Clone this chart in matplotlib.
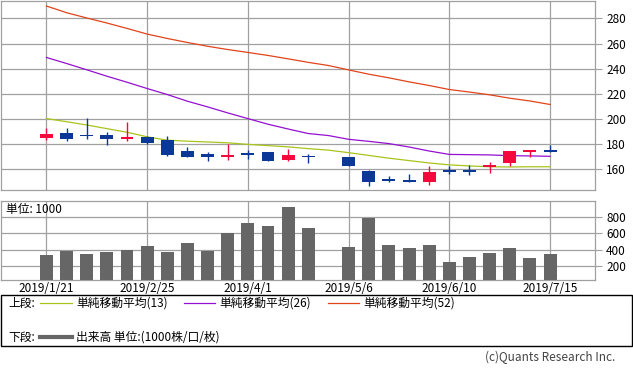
import matplotlib
matplotlib.use("Agg")
import matplotlib.pyplot as plt
from matplotlib.lines import Line2D
import numpy as np

plt.rcParams['font.family'] = ['Noto Sans CJK JP', 'DejaVu Sans']

# 週足データ (2019/1/21 - 2019/7/15, 4/29 の週は休場)
dates = ["2019/1/21", "2019/1/28", "2019/2/4", "2019/2/11", "2019/2/18", "2019/2/25",
         "2019/3/4", "2019/3/11", "2019/3/18", "2019/3/25", "2019/4/1", "2019/4/8",
         "2019/4/15", "2019/4/22", "2019/4/29", "2019/5/6", "2019/5/13", "2019/5/20",
         "2019/5/27", "2019/6/3", "2019/6/10", "2019/6/17", "2019/6/24", "2019/7/1",
         "2019/7/8", "2019/7/15"]
nan = np.nan
opens = [185.2, 188.6, 187.3, 187.3, 184.4, 185.7, 183.1, 174.6, 172.2, 170.0, 172.2, 173.8,
         167.4, 170.8, nan, 170.0, 158.6, 151.5, 151.2, 150.1, 159.4, 159.2, 161.8, 165.3,
         174.0, 175.1]
highs = [192.7, 192.7, 200.6, 189.7, 197.7, 186.5, 186.5, 177.8, 173.5, 180.2, 175.4, 173.8,
         176.2, 172.2, nan, 170.0, 159.4, 154.7, 156.0, 162.6, 162.9, 163.4, 165.8, 174.6,
         175.1, 179.1]
lows = [183.3, 182.8, 184.0, 179.4, 182.8, 180.2, 170.6, 170.0, 166.9, 167.4, 168.0, 166.9,
        166.6, 165.3, nan, 162.7, 146.7, 150.1, 149.9, 147.5, 156.2, 155.4, 157.3, 162.9,
        170.0, 174.0]
closes = [187.9, 184.4, 186.4, 184.1, 186.0, 181.2, 171.6, 170.0, 170.0, 171.6, 171.4, 166.9,
          171.6, 169.4, nan, 162.7, 150.1, 150.8, 149.9, 157.8, 157.8, 158.5, 162.9, 174.6,
          175.1, 174.0]
volume = [334, 382, 346, 370, 395, 443, 370, 480, 382, 601, 723, 686, 918, 662, nan,
          431, 784, 455, 419, 455, 249, 310, 358, 419, 297, 346]
ma13 = [200.3, 197.8, 195.2, 192.3, 189.4, 185.8, 183.1, 182.3, 181.7, 181.0, 179.8, 178.8,
        177.8, 176.4, 175.2, 173.2, 171.0, 168.8, 166.9, 165.0, 163.5, 162.6, 162.0, 161.8,
        162.0, 162.0]
ma26 = [248.9, 244.1, 239.1, 234.0, 229.2, 224.2, 219.4, 214.1, 209.6, 204.8, 200.3, 195.8,
        192.0, 188.4, 186.8, 183.8, 182.2, 180.4, 177.7, 174.5, 171.8, 171.6, 171.4, 170.8,
        170.6, 170.3]
ma52 = [289.8, 284.5, 280.3, 276.3, 272.0, 267.5, 264.0, 260.8, 257.8, 255.2, 252.9, 250.5,
        247.8, 245.0, 242.5, 239.0, 235.6, 232.7, 229.5, 226.6, 223.4, 221.4, 219.2, 216.5,
        214.3, 211.5]

label_idx = [0, 5, 10, 15, 20, 25]
price_ticks = [160, 180, 200, 220, 240, 260, 280]
vol_ticks = [200, 400, 600, 800]

c13, c26, c52 = "#a8c41c", "#9410d0", "#e0441a"
c_up, c_down = "#f5083c", "#0b3796"
grid_c = "#a0a0a0"
W, H = 633, 371

fig = plt.figure(figsize=(W / 100, H / 100), dpi=100)


def px(x0, y0, x1, y1):
    return [x0 / W, 1 - y1 / H, (x1 - x0) / W, (y1 - y0) / H]


x = np.arange(len(dates))
xlim = (-2.28, 27.23)

# ---- 上段: ローソク足 + 移動平均 ----
ax = fig.add_axes(px(0.5, 1, 595, 190))
ax.set_xlim(*xlim)
ax.set_ylim(143.5, 293.8)
for i in x:
    if np.isnan(opens[i]):
        continue
    col = c_up if closes[i] > opens[i] else c_down
    ax.vlines(i, lows[i], highs[i], color=col, lw=1.0, zorder=3)
    lo = min(opens[i], closes[i])
    h = max(abs(closes[i] - opens[i]), 1.5)
    if abs(closes[i] - opens[i]) < 1.5:
        lo = (opens[i] + closes[i]) / 2 - 0.75
    ax.bar(i, h, bottom=lo, width=0.64, color=col, zorder=4)

ax.plot(x, ma52, color=c52, lw=0.9, zorder=2)
ax.plot(x, ma26, color=c26, lw=0.9, zorder=2)
ax.plot(x, ma13, color=c13, lw=0.9, zorder=2)

ax.set_xticks(label_idx)
ax.set_xticklabels([])
ax.set_yticks(price_ticks)
ax.yaxis.tick_right()
ax.tick_params(axis='y', length=5, width=0.8, color=grid_c, pad=3, labelsize=8.5)
ax.tick_params(axis='x', length=0)
ax.grid(True, color=grid_c, lw=0.9)
ax.set_axisbelow(True)
for s in ax.spines.values():
    s.set_color(grid_c)
    s.set_linewidth(0.9)

# ---- 下段: 出来高 ----
axv = fig.add_axes(px(0.5, 201, 595, 280))
axv.set_xlim(*xlim)
axv.set_ylim(30, 990)
axv.bar(x, volume, width=0.64, bottom=0, color="#666666", zorder=3)
axv.set_xticks(label_idx)
axv.set_xticklabels([dates[i] for i in label_idx])
axv.set_yticks(vol_ticks)
axv.yaxis.tick_right()
axv.tick_params(axis='y', length=5, width=0.8, color=grid_c, pad=3, labelsize=8.5)
axv.tick_params(axis='x', length=0, pad=1.5, labelsize=8.5)
axv.grid(True, color=grid_c, lw=0.9)
axv.set_axisbelow(True)
for s in axv.spines.values():
    s.set_color(grid_c)
    s.set_linewidth(0.9)
axv.text(6 / 595, 1 - 8 / 79, "単位: 1000", transform=axv.transAxes,
         fontsize=8.5, ha='left', va='center')

# ---- 凡例 ----
box = plt.Rectangle((0.5 / W, 1 - 346 / H), 631.5 / W, 51 / H, transform=fig.transFigure,
                    fill=False, edgecolor='black', lw=1.0)
fig.add_artist(box)


def legend_line(x0, x1, y, color, lw):
    fig.add_artist(Line2D([x0 / W, x1 / W], [1 - y / H, 1 - y / H],
                          transform=fig.transFigure, color=color, lw=lw))


def ftext(xp, yp, s, **kw):
    fig.text(xp / W, 1 - yp / H, s, va='center', fontsize=8.5, **kw)


ftext(8, 303, "上段:")
legend_line(40, 72, 303, c13, 0.9)
ftext(76, 303, "単純移動平均(13)")
legend_line(184, 215, 303, c26, 0.9)
ftext(219, 303, "単純移動平均(26)")
legend_line(328, 359, 303, c52, 0.9)
ftext(363, 303, "単純移動平均(52)")

ftext(8, 337, "下段:")
legend_line(40, 72, 337, "#666666", 3.0)
ftext(76, 337, "出来高 単位:(1000株/口/枚)")

ftext(615, 357, "(c)Quants Research Inc.", ha='right', color="#444444")

fig.savefig("out.png", dpi=100)
